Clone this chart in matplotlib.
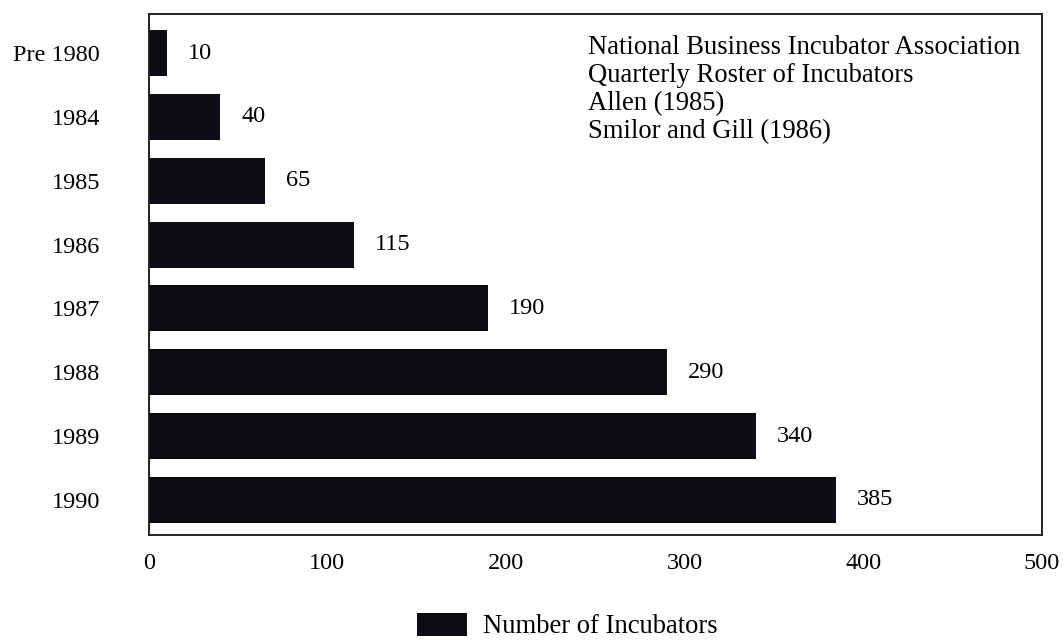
import matplotlib
matplotlib.use("Agg")
import matplotlib.pyplot as plt

plt.rcParams['font.family'] = ['Liberation Serif', 'DejaVu Serif']

periods = ['Pre 1980', '1984', '1985', '1986', '1987', '1988', '1989', '1990']
incubators = [10, 40, 65, 115, 190, 290, 340, 385]
x_ticks = [0, 100, 200, 300, 400, 500]
sources = ['National Business Incubator Association',
           'Quarterly Roster of Incubators',
           'Allen (1985)',
           'Smilor and Gill (1986)']

BAR_COLOR = '#0c0c12'
FS = 17.5

fig = plt.figure(figsize=(10.63, 6.4), dpi=100)
ax = fig.add_axes([0.140, 0.164, 0.840, 0.814])

pos = list(range(len(periods)))
ax.barh(pos, incubators, height=0.72, color=BAR_COLOR,
        label='Number of Incubators')

for y, v in zip(pos, incubators):
    ax.annotate(str(v), (v, y), xytext=(15, 0), textcoords='offset points',
                ha='left', va='center', fontsize=FS)

ax.set_xlim(0, 500)
ax.set_ylim(7.55, -0.61)
ax.set_xticks(x_ticks)
ax.set_yticks(pos)
ax.set_yticklabels(periods)
ax.tick_params(axis='both', length=0, labelsize=FS)
ax.tick_params(axis='y', pad=35)
ax.tick_params(axis='x', pad=13)
for s in ax.spines.values():
    s.set_linewidth(1.4)
    s.set_color('#222222')

# source list in the upper right corner
ax.text(0.492, 0.96, '\n'.join(sources), transform=ax.transAxes,
        ha='left', va='top', fontsize=19.2, linespacing=1.16)

fig.legend(loc='center left', bbox_to_anchor=(417 / 1063, 1 - 626 / 640),
           frameon=False, fontsize=19.2, borderpad=0, borderaxespad=0,
           handlelength=1.87, handleheight=0.98, handletextpad=0.6)

fig.savefig('out.png', dpi=100)
